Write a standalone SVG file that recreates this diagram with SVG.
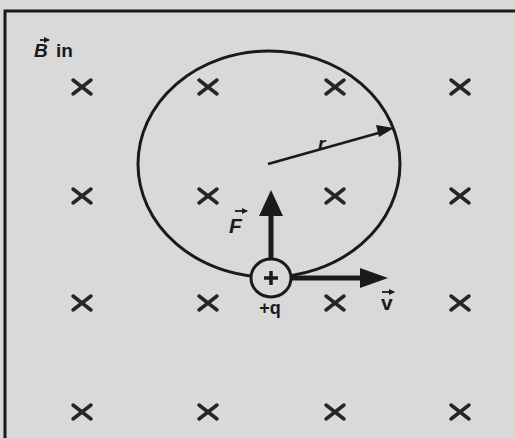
<svg xmlns="http://www.w3.org/2000/svg" width="515" height="438" viewBox="0 0 515 438">
<style>
.x{stroke:#262626;stroke-width:3.5;stroke-linecap:round;fill:none}
.t{font-family:"Liberation Sans",Arial,sans-serif;font-weight:bold;fill:#1a1a1a}
.ln{stroke:#1a1a1a;fill:none}
</style>
<defs>
<g id="cross"><path class="x" d="M-9,-7 L9,7 M-9,7 L9,-7"/></g>
<marker id="vec" markerWidth="6" markerHeight="6" refX="5" refY="3" orient="auto" markerUnits="userSpaceOnUse"><path d="M0,0 L6,3 L0,6 Z" fill="#1a1a1a"/></marker>
</defs>
<rect width="515" height="438" fill="#d9d9d9"/>
<path class="ln" stroke-width="3" d="M5,438 V11 H515"/>
<g id="field">
<use href="#cross" x="82" y="87"/><use href="#cross" x="208" y="87"/><use href="#cross" x="335" y="87"/><use href="#cross" x="460" y="87"/>
<use href="#cross" x="82" y="196"/><use href="#cross" x="208" y="196"/><use href="#cross" x="335" y="196"/><use href="#cross" x="460" y="196"/>
<use href="#cross" x="82" y="303"/><use href="#cross" x="208" y="303"/><use href="#cross" x="335" y="303"/><use href="#cross" x="460" y="303"/>
<use href="#cross" x="82" y="412"/><use href="#cross" x="208" y="412"/><use href="#cross" x="335" y="412"/><use href="#cross" x="460" y="412"/>
</g>
<g id="label-B">
<text class="t" x="34" y="57" font-size="19" font-style="italic">B</text>
<line class="ln" stroke-width="1.8" x1="40" y1="40" x2="49" y2="40" marker-end="url(#vec)"/>
<text class="t" x="56" y="57" font-size="19">in</text>
</g>
<g id="orbit">
<ellipse class="ln" stroke-width="3" cx="269" cy="164" rx="131" ry="113"/>
</g>
<g id="connectors">
<line class="ln" stroke-width="2.8" x1="268" y1="164" x2="382" y2="132"/>
<path d="M394,128 L376,125 L379,137 Z" fill="#1a1a1a"/>
<line class="ln" stroke-width="5" x1="271" y1="258" x2="271" y2="212"/>
<path d="M271,190 L283,216 L259,216 Z" fill="#1a1a1a"/>
<line class="ln" stroke-width="5" x1="291" y1="278" x2="364" y2="278"/>
<path d="M388,278 L360,268 L360,288 Z" fill="#1a1a1a"/>
</g>
<g id="label-r"><text class="t" x="318" y="150" font-size="19" font-style="italic">r</text></g>
<g id="charge">
<ellipse cx="271" cy="278" rx="20" ry="19" fill="#d9d9d9" stroke="#1a1a1a" stroke-width="3"/>
<path d="M264,278 H278 M271,271 V285" stroke="#1a1a1a" stroke-width="3.5" fill="none"/>
<text class="t" x="270" y="314" font-size="18" text-anchor="middle">+q</text>
</g>
<g id="label-F">
<text class="t" x="229" y="233" font-size="21" font-style="italic">F</text>
<line class="ln" stroke-width="1.8" x1="235" y1="211" x2="247" y2="211" marker-end="url(#vec)"/>
</g>
<g id="label-v">
<text class="t" x="381" y="310" font-size="21">v</text>
<line class="ln" stroke-width="1.8" x1="382" y1="292" x2="394" y2="292" marker-end="url(#vec)"/>
</g>
</svg>
